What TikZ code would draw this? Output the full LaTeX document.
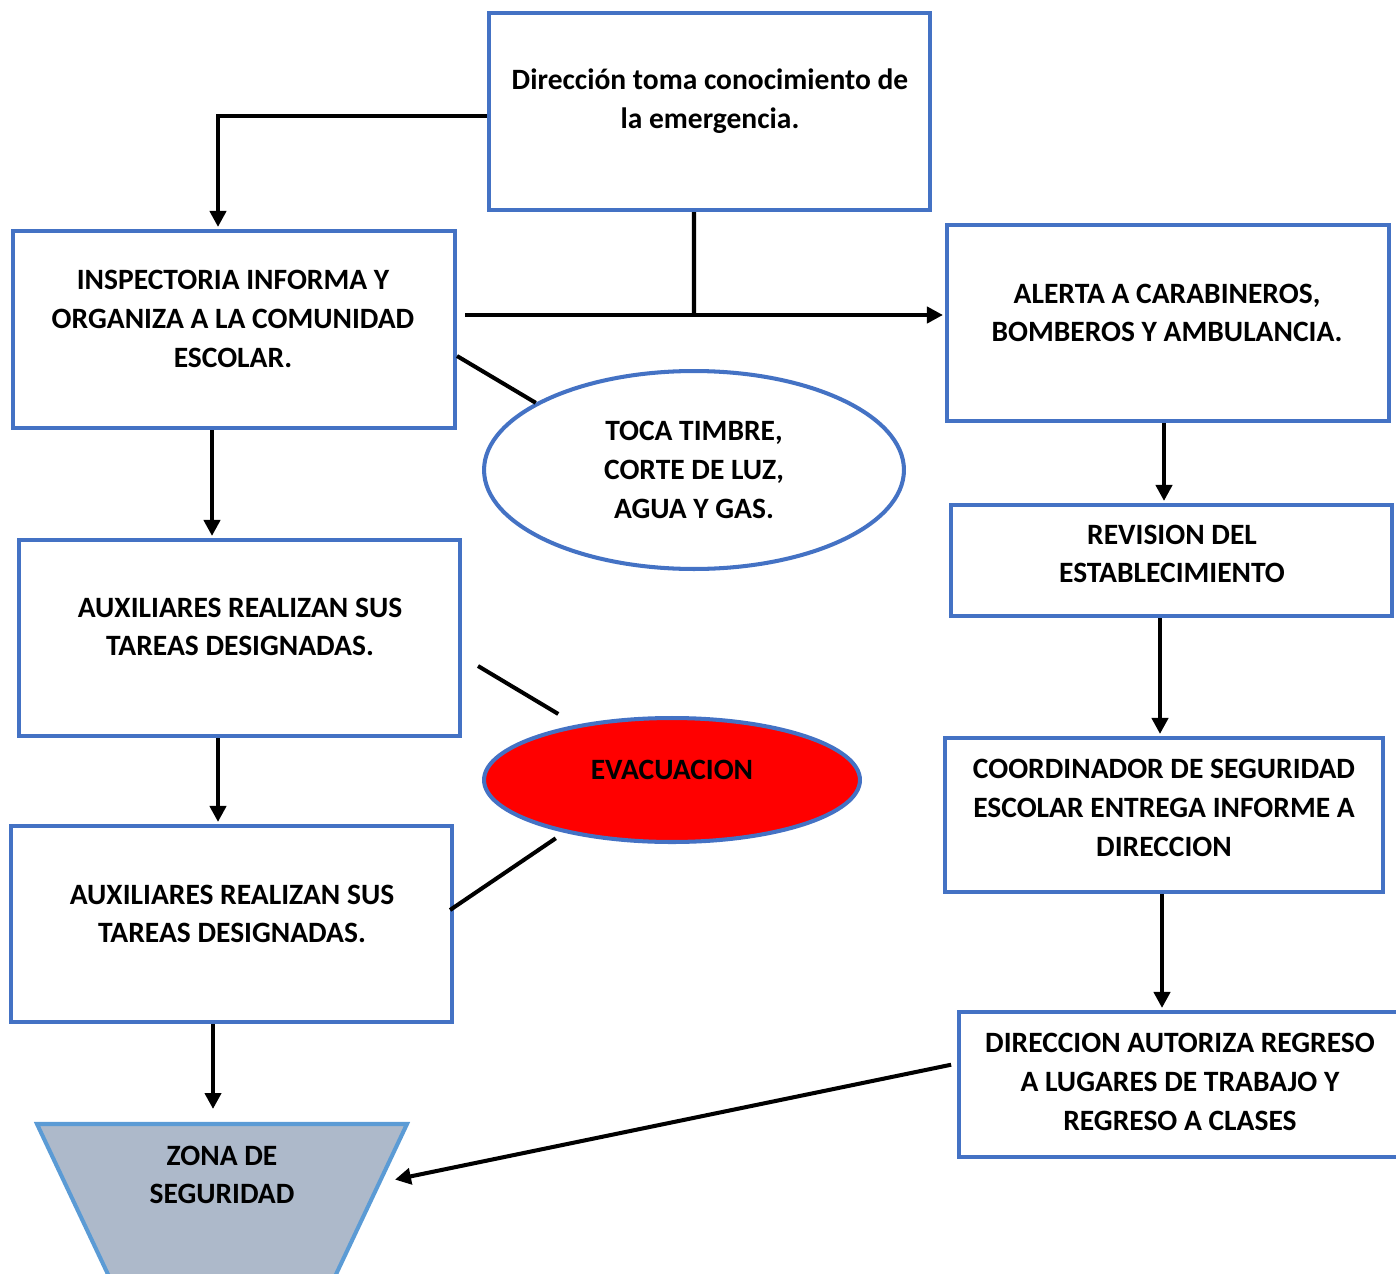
\documentclass[tikz,border=0pt]{standalone}
\usepackage{fontspec}
\setmainfont{Carlito}
\usetikzlibrary{arrows.meta,calc,fit,positioning,shapes.geometric}
\definecolor{BoxBlue}{HTML}{4472C4}
\definecolor{ZoneFill}{HTML}{ADB9CA}
\definecolor{ZoneEdge}{HTML}{5B9BD5}
\definecolor{AlarmRed}{HTML}{FF0000}
\tikzset{
  stage/.style={draw=BoxBlue, line width=2.3pt, fill=white, inner sep=0pt},
  boxtext/.style={align=center, inner sep=0pt, font=\fontsize{16.8}{22}\selectfont\bfseries},
  bubble/.style={
    ellipse, draw=BoxBlue, line width=2.3pt, fill=white, align=center,
    inner sep=0pt, font=\fontsize{16.8}{22}\selectfont\bfseries
  },
  zone/.style={draw=ZoneEdge, line width=2.3pt, fill=ZoneFill},
  flow/.style={-{Triangle[length=0.32cm,width=0.32cm]}, line width=2.3pt, shorten >=0.04cm},
  link/.style={line width=2.3pt}
}

\begin{document}
\begin{tikzpicture}[x=0.02cm,y=-0.02cm]
    \useasboundingbox (0,0) rectangle (1396,1274);
    % left column
    \node[stage,fit={(489,13) (930,210)}] (direc) {};
    \node[boxtext] (direc-t) at (710,101) {Dirección toma conocimiento de\\la emergencia.};
    \node[stage,fit={(13,231) (455,428)}] (insp) {};
    \node[boxtext] (insp-t) at (233,319) {INSPECTORIA INFORMA Y\\ORGANIZA A LA COMUNIDAD\\ESCOLAR.};
    \node[stage,fit={(19,540) (460,736)}] (aux1) {};
    \node[boxtext] (aux1-t) at (240,627) {AUXILIARES REALIZAN SUS\\TAREAS DESIGNADAS.};
    \node[stage,fit={(11,826) (452,1022)}] (aux2) {};
    \node[boxtext] (aux2-t) at (232,914) {AUXILIARES REALIZAN SUS\\TAREAS DESIGNADAS.};
    \draw[zone] (37,1124) -- (407,1124) -- (322,1304) -- (122,1304) -- cycle;
    \coordinate (zona-n) at (212,1124);
    \coordinate (zona-in) at (393,1180);
    \node[boxtext] (zona) at (222,1175) {ZONA DE\\SEGURIDAD};
    % right column
    \node[stage,fit={(947,225) (1389,421)}] (alerta) {};
    \node[boxtext] (alerta-t) at (1167,313) {ALERTA A CARABINEROS,\\BOMBEROS Y AMBULANCIA.};
    \node[stage,fit={(951,505) (1392,616)}] (revision) {};
    \node[boxtext] (revision-t) at (1172,554) {REVISION DEL\\ESTABLECIMIENTO};
    \node[stage,fit={(945,738) (1383,892)}] (coord) {};
    \node[boxtext] (coord-t) at (1164,808) {COORDINADOR DE SEGURIDAD\\ESCOLAR ENTREGA INFORME A\\DIRECCION};
    \node[stage,fit={(959,1012) (1399,1157)}] (dirreg) {};
    \node[boxtext] (dirreg-t) at (1180,1082) {DIRECCION AUTORIZA REGRESO\\A LUGARES DE TRABAJO Y\\REGRESO A CLASES};
    % middle
    \node[bubble,minimum width=8.4cm,minimum height=3.96cm] (toca) at (694,470) {TOCA TIMBRE,\\CORTE DE LUZ,\\AGUA Y GAS.};
    \node[bubble,fill=AlarmRed,minimum width=7.52cm,minimum height=2.48cm,text depth=0.4cm] (evac) at (672,780) {EVACUACION};
    % connectors
    \coordinate (junc) at (694,315);
    \draw[flow] ([yshift=-0.09cm]direc.west) -| ([xshift=-0.32cm]insp.north);
    \draw[link] ([xshift=-0.31cm]direc.south) -- (junc);
    \draw[flow] ([xshift=0.16cm]insp.east |- junc) -- (alerta.west |- junc);
    \draw[link] ([yshift=-0.53cm]insp.east) -- (toca.157);
    \draw[flow] ([xshift=-0.44cm]insp.south) -- ([xshift=-0.44cm]insp.south |- aux1.north);
    \draw[link,shorten >=0.42cm] ([xshift=0.32cm,yshift=-0.56cm]aux1.east) -- (evac.150);
    \draw[flow] ([xshift=-0.43cm]aux1.south) -- ([xshift=-0.43cm]aux1.south |- aux2.north);
    \draw[link,shorten >=0.2cm] ([xshift=-0.08cm,yshift=0.28cm]aux2.east) -- (evac.206);
    \draw[flow,shorten >=0.3cm] ([xshift=-0.37cm]aux2.south) -- ([xshift=-0.37cm]aux2.south |- zona-n);
    \draw[flow] ([xshift=-0.08cm]alerta.south) -- ([xshift=-0.08cm]alerta.south |- revision.north);
    \draw[flow] ([xshift=-0.23cm]revision.south) -- ([xshift=-0.23cm]revision.south |- coord.north);
    \draw[flow] ([xshift=-0.04cm]coord.south) -- ([xshift=-0.04cm]coord.south |- dirreg.north);
    \draw[flow,shorten <=0.12cm] ([yshift=0.42cm]dirreg.west) -- (zona-in);
\end{tikzpicture}
\end{document}
